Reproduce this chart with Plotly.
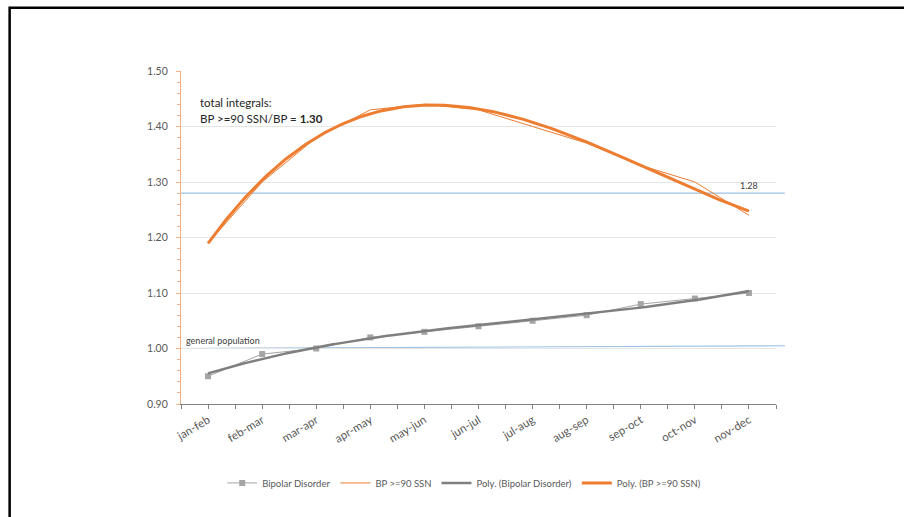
import numpy as np
import plotly.graph_objects as go

# Two-month windows
periods = ["jan-feb", "feb-mar", "mar-apr", "apr-may", "may-jun", "jun-jul",
           "jul-aug", "aug-sep", "sep-oct", "oct-nov", "nov-dec"]

# Relative rates per window
bipolar = [0.95, 0.99, 1.00, 1.02, 1.03, 1.04, 1.05, 1.06, 1.08, 1.09, 1.10]
bp_ssn90 = [1.19, 1.30, 1.38, 1.43, 1.44, 1.43, 1.40, 1.37, 1.33, 1.30, 1.24]

# Reference levels
general_population = 1.00
ssn_reference = 1.28
integral_ratio = 1.30

ORANGE = "#ED7D31"
GRAY = "#A5A5A5"
DARK_GRAY = "#7F7F7F"
BLUE = "#9DC3E6"
TEXT = "#595959"
FONT = "Lato"

x_idx = np.arange(len(periods))
x_fine = np.linspace(0, len(periods) - 1, 200)

# Polynomial trendlines (least-squares fit of the series)
poly_bip = np.polyval(np.polyfit(x_idx, bipolar, 3), x_fine)
poly_bp = np.polyval(np.polyfit(x_idx, bp_ssn90, 3), x_fine)

fig = go.Figure()

fig.add_trace(go.Scatter(
    x=x_idx, y=bipolar, mode="lines+markers", name="Bipolar Disorder",
    line=dict(color=GRAY, width=1),
    marker=dict(symbol="square", size=6, color=GRAY),
))
fig.add_trace(go.Scatter(
    x=x_idx, y=bp_ssn90, mode="lines", name="BP >=90 SSN",
    line=dict(color=ORANGE, width=1),
))
fig.add_trace(go.Scatter(
    x=x_fine, y=poly_bip, mode="lines", name="Poly. (Bipolar Disorder)",
    line=dict(color=DARK_GRAY, width=2.5),
))
fig.add_trace(go.Scatter(
    x=x_fine, y=poly_bp, mode="lines", name="Poly. (BP >=90 SSN)",
    line=dict(color=ORANGE, width=3),
))

# Horizontal reference lines
fig.add_shape(type="line", xref="paper", yref="y", x0=0, x1=1.015,
              y0=ssn_reference, y1=ssn_reference,
              line=dict(color=BLUE, width=1.2), layer="below")
fig.add_shape(type="line", xref="paper", yref="y", x0=0, x1=1.015,
              y0=general_population, y1=general_population + 0.005,
              line=dict(color=BLUE, width=1.2), layer="below")

# Outer frame
fig.add_shape(type="rect", xref="paper", yref="paper",
              x0=-0.288, x1=1.25, y0=-0.40, y1=1.19,
              line=dict(color="black", width=2.5), fillcolor="rgba(0,0,0,0)")

fig.add_annotation(x=0.005, y=general_population, xref="paper", yref="y",
                   text="general population", showarrow=False,
                   xanchor="left", yanchor="bottom", yshift=1,
                   font=dict(family=FONT, size=9, color="#404040"))
fig.add_annotation(x=0.955, y=ssn_reference, xref="paper", yref="y",
                   text=f"{ssn_reference:.2f}", showarrow=False,
                   xanchor="center", yanchor="bottom", yshift=0,
                   font=dict(family=FONT, size=9, color="#404040"))

# Two-line note on the integrals
fig.add_annotation(x=0.028, y=1.444, xref="paper", yref="y",
                   text="total integrals:",
                   showarrow=False, xanchor="left", yanchor="middle",
                   font=dict(family=FONT, size=11.5, color="#262626"))
fig.add_annotation(x=0.028, y=1.415, xref="paper", yref="y",
                   text=f"BP >=90 SSN/BP = <b>{integral_ratio:.2f}</b>",
                   showarrow=False, xanchor="left", yanchor="middle",
                   font=dict(family=FONT, size=11.5, color="#262626"))

fig.update_xaxes(
    range=[-0.5, len(periods) - 0.5],
    tickmode="array", tickvals=list(x_idx), ticktext=periods,
    tickangle=-31, ticks="outside", ticklen=4, tickcolor="#808080",
    minor=dict(tickmode="array", tickvals=list(np.arange(-0.5, len(periods), 1.0)),
               ticks="outside", ticklen=4, tickcolor="#808080"),
    showline=True, linecolor="#808080", linewidth=1,
    showgrid=False, zeroline=False,
    tickfont=dict(family=FONT, size=11.5, color=TEXT),
)
fig.update_yaxes(
    range=[0.90, 1.50], dtick=0.10, tick0=0.90, tickformat=".2f",
    ticks="outside", ticklen=4, tickcolor="#F4B183",
    minor=dict(dtick=0.02, ticks="outside", ticklen=3, tickcolor="#F4B183", showgrid=False),
    showline=True, linecolor="#F4B183", linewidth=1.2,
    showgrid=True, gridcolor="#E5E5E5", gridwidth=1, zeroline=False,
    ticklabelstandoff=6,
    tickfont=dict(family=FONT, size=10.5, color=TEXT),
)

fig.update_layout(
    width=904, height=517,
    margin=dict(l=181, r=128, t=71, b=113),
    paper_bgcolor="white", plot_bgcolor="white",
    showlegend=True,
    legend=dict(orientation="h", x=0.476, y=-0.237, xanchor="center", yanchor="middle",
                font=dict(family=FONT, size=9.5, color=TEXT),
                itemwidth=30, bgcolor="rgba(0,0,0,0)"),
)

fig.write_html("out.html")
